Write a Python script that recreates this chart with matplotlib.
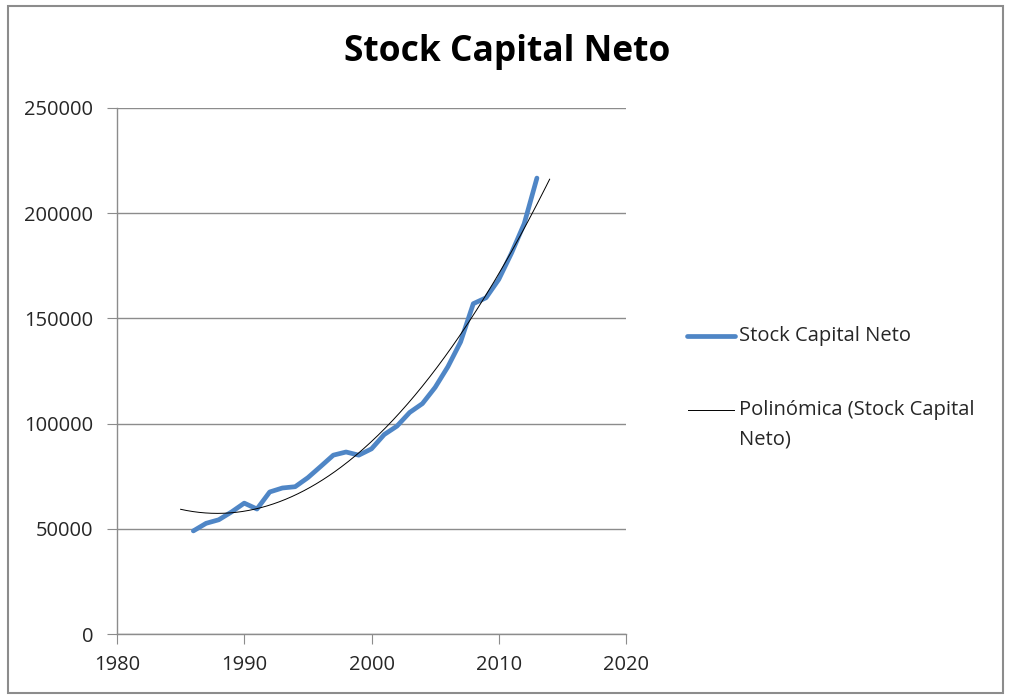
import numpy as np
import matplotlib
matplotlib.use("Agg")
import matplotlib.pyplot as plt
from matplotlib.patches import Rectangle
from matplotlib.lines import Line2D

years = [1986, 1987, 1988, 1989, 1990, 1991, 1992, 1993, 1994, 1995,
         1996, 1997, 1998, 1999, 2000, 2001, 2002, 2003, 2004, 2005,
         2006, 2007, 2008, 2009, 2010, 2011, 2012, 2013]
stock = [49000, 52600, 54300, 58000, 62200, 59400, 67500, 69400, 70000, 74300,
         79600, 85000, 86500, 85000, 88000, 94800, 98800, 105300, 109500, 117200,
         127000, 138800, 157000, 159800, 168500, 181000, 195000, 216700]
x_ticks = [1980, 1990, 2000, 2010, 2020]
y_ticks = [0, 50000, 100000, 150000, 200000, 250000]
title = "Stock Capital Neto"
series_label = "Stock Capital Neto"
trend_label_1 = "Polinómica (Stock Capital"
trend_label_2 = "Neto)"

FONT = ["Open Sans", "DejaVu Sans"]
plt.rcParams['font.family'] = FONT

W, H = 1010, 698
fig = plt.figure(figsize=(W / 100, H / 100), dpi=100)
BLUE = "#4F86C6"

def fx(px):
    return px / W

def fy(py):
    return 1 - py / H

# outer chart border
fig.patches.append(Rectangle((fx(8), fy(693)), (1003 - 8) / W, (693 - 6) / H,
                             transform=fig.transFigure, fill=False,
                             edgecolor="#8c8c8c", linewidth=1.5))

L, R, T, B = 117, 626, 108, 634
ax = fig.add_axes([fx(L), fy(B), (R - L) / W, (B - T) / H])

ax.plot(years, stock, color=BLUE, linewidth=3.4, solid_capstyle="round",
        solid_joinstyle="round", zorder=3)

coef = np.polyfit(years, stock, 2)
xt = np.linspace(years[0] - 1, years[-1] + 1, 300)
ax.plot(xt, np.polyval(coef, xt), color="black", linewidth=0.7, zorder=4)

ax.set_xlim(1980, 2020)
ax.set_ylim(0, 250000)
ax.set_xticks(x_ticks)
ax.set_yticks(y_ticks)
ax.set_xticklabels([str(v) for v in x_ticks])
ax.set_yticklabels([str(v) for v in y_ticks])
ax.grid(axis="y", color="#8c8c8c", linewidth=1.0)
ax.set_axisbelow(True)
for s in ["top", "right"]:
    ax.spines[s].set_visible(False)
for s in ["left", "bottom"]:
    ax.spines[s].set_color("#8c8c8c")
    ax.spines[s].set_linewidth(1.0)
ax.tick_params(axis="both", direction="out", length=7, color="#8c8c8c",
               labelsize=14.5, labelcolor="#262626")
ax.tick_params(axis="y", pad=10)
ax.tick_params(axis="x", pad=8)

fig.text(fx(507), fy(52), title, ha="center", va="center",
         fontsize=25.5, fontweight="bold", family=FONT, color="black")

# legend (manual placement to mimic the reference)
fig.add_artist(Line2D([fx(687), fx(735)], [fy(336), fy(336)], color=BLUE,
                      linewidth=3.4, solid_capstyle="round",
                      transform=fig.transFigure))
fig.text(fx(739), fy(336), series_label, ha="left", va="center",
         fontsize=14.5, color="#262626")
fig.add_artist(Line2D([fx(688), fx(734)], [fy(410), fy(410)], color="black",
                      linewidth=0.7, transform=fig.transFigure))
fig.text(fx(739), fy(410), trend_label_1, ha="left", va="center",
         fontsize=14.5, color="#262626")
fig.text(fx(739), fy(440), trend_label_2, ha="left", va="center",
         fontsize=14.5, color="#262626")

fig.savefig("out.png", dpi=100)
